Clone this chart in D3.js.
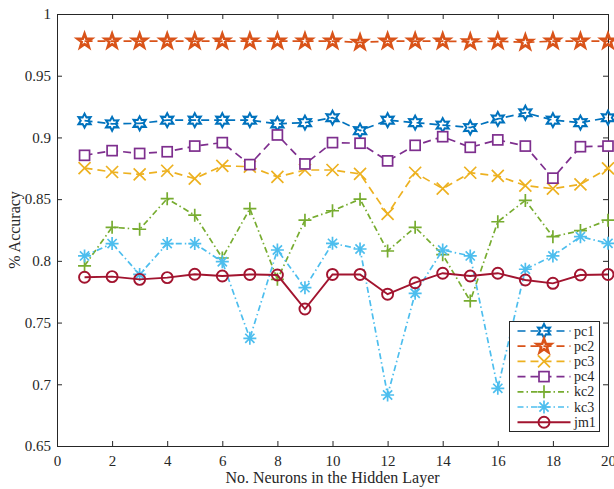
<!DOCTYPE html>
<html>
<head>
<meta charset="utf-8">
<script src="https://cdn.jsdelivr.net/npm/d3@7"></script>
<style>
body { margin: 0; background: #fff; }
text { font-family: "Liberation Serif", "Times New Roman", serif; fill: #262626; }
</style>
</head>
<body>
<script>
// - data -

var neurons = d3.range(1, 21);
var xTicks = [0, 2, 4, 6, 8, 10, 12, 14, 16, 18, 20];
var yTicks = [0.65, 0.7, 0.75, 0.8, 0.85, 0.9, 0.95, 1];

var pc1 = [0.9136, 0.911, 0.9114, 0.914, 0.914, 0.914, 0.914, 0.911, 0.912, 0.916, 0.9055, 0.914, 0.912, 0.910, 0.908, 0.915, 0.920, 0.914, 0.912, 0.916];
var pc2 = [0.978, 0.978, 0.978, 0.978, 0.978, 0.978, 0.978, 0.978, 0.978, 0.978, 0.977, 0.978, 0.978, 0.978, 0.9775, 0.978, 0.977, 0.978, 0.978, 0.978];
var pc3 = [0.8752, 0.872, 0.870, 0.873, 0.8666, 0.877, 0.8763, 0.868, 0.8736, 0.8736, 0.8704, 0.838, 0.8714, 0.8585, 0.8714, 0.8688, 0.861, 0.8585, 0.862, 0.875];
var pc4 = [0.8855, 0.8893, 0.887, 0.8884, 0.893, 0.8958, 0.878, 0.902, 0.8785, 0.8958, 0.8953, 0.881, 0.8936, 0.9006, 0.892, 0.898, 0.893, 0.867, 0.8925, 0.893];
var kc2 = [0.796, 0.8272, 0.8256, 0.8504, 0.837, 0.8023, 0.8423, 0.785, 0.833, 0.8406, 0.850, 0.808, 0.8272, 0.805, 0.7675, 0.8317, 0.849, 0.8196, 0.8245, 0.833];
var kc3 = [0.804, 0.814, 0.789, 0.814, 0.814, 0.7993, 0.7372, 0.8088, 0.7783, 0.8142, 0.8096, 0.6913, 0.7737, 0.8088, 0.804, 0.6967, 0.7932, 0.804, 0.8196, 0.8142];
var jm1 = [0.7867, 0.7872, 0.785, 0.7864, 0.7891, 0.7877, 0.789, 0.7885, 0.761, 0.789, 0.789, 0.773, 0.7823, 0.790, 0.7877, 0.790, 0.7845, 0.7818, 0.7885, 0.789];

var seriesNames = ['pc1', 'pc2', 'pc3', 'pc4', 'kc2', 'kc3', 'jm1'];
var seriesValues = [pc1, pc2, pc3, pc4, kc2, kc3, jm1];

// - global -

var width = 614;
var height = 489;

var margin = { top: 14, left: 57, bottom: 43, right: 6 };

var colors = {
	pc1: '#0072BD', pc2: '#D95319', pc3: '#EDB120', pc4: '#7E2F8E',
	kc2: '#77AC30', kc3: '#4DBEEE', jm1: '#A2142F'
};

function mapDash(key) {
	switch (key) {
		case 'kc2':
		case 'kc3':	return '6,3,1.5,3';
		case 'jm1':	return null;
	}
	return '8,5';
}

var svg = d3.select('body').append('svg')
	.attr('width', width)
	.attr('height', height);

var x = d3.scaleLinear().domain([0, 20]).range([margin.left, width - margin.right]);
var y = d3.scaleLinear().domain([0.65, 1]).range([height - margin.bottom, margin.top]);

// - markers -

function starPath(points, rOuter, rInner) {
	var p = [];
	for (var i = 0; i < points * 2; i++) {
		var r = i % 2 == 0 ? rOuter : rInner;
		var a = Math.PI * i / points - Math.PI / 2;
		p.push([r * Math.cos(a), r * Math.sin(a)]);
	}
	return 'M' + p.map(d => d[0].toFixed(2) + ',' + d[1].toFixed(2)).join('L') + 'Z';
}

function drawMarker(g, key, cx, cy) {
	var c = colors[key];
	var m = g.append('g').attr('transform', 'translate(' + cx + ',' + cy + ')')
		.attr('fill', 'none').attr('stroke', c).attr('stroke-width', 1.7);
	switch (key) {
		case 'pc1':
			m.append('path').attr('d', starPath(6, 7, 3.8)).attr('stroke-width', 2);
			break;
		case 'pc2':
			m.append('path').attr('d', starPath(5, 7.5, 3)).attr('stroke-width', 2.6)
				.attr('stroke-linejoin', 'miter');
			break;
		case 'pc3':
			m.append('path').attr('d', 'M-6,-6L6,6M-6,6L6,-6');
			break;
		case 'pc4':
			m.append('rect').attr('x', -5).attr('y', -5).attr('width', 10).attr('height', 10)
				.attr('fill', '#fff');
			break;
		case 'kc2':
			m.append('path').attr('d', 'M-6.5,0L6.5,0M0,-6.5L0,6.5');
			break;
		case 'kc3':
			m.append('path').attr('d', 'M-6.5,0L6.5,0M0,-6.5L0,6.5M-4.6,-4.6L4.6,4.6M-4.6,4.6L4.6,-4.6');
			break;
		case 'jm1':
			m.append('circle').attr('r', 5.5).attr('fill', 'none').attr('stroke-width', 1.9);
			break;
	}
}

// - axes box -

svg.append('rect')
	.attr('x', x(0)).attr('y', y(1))
	.attr('width', x(20) - x(0)).attr('height', y(0.65) - y(1))
	.attr('fill', '#fff');

var axisFont = 15;

var gx = svg.append('g').attr('transform', 'translate(0,' + y(0.65) + ')')
	.call(d3.axisBottom(x).tickValues(xTicks).tickSize(-5).tickPadding(9).tickFormat(d3.format('d')));
var gxTop = svg.append('g').attr('transform', 'translate(0,' + y(1) + ')')
	.call(d3.axisTop(x).tickValues(xTicks).tickSize(-5).tickFormat(''));
var gy = svg.append('g').attr('transform', 'translate(' + x(0) + ',0)')
	.call(d3.axisLeft(y).tickValues(yTicks).tickSize(-5).tickPadding(6).tickFormat(d => d == 1 ? '1' : String(+d.toFixed(2))));
var gyRight = svg.append('g').attr('transform', 'translate(' + x(20) + ',0)')
	.call(d3.axisRight(y).tickValues(yTicks).tickSize(-5).tickFormat(''));

[gx, gxTop, gy, gyRight].forEach(function(a) {
	a.select('.domain').attr('stroke', '#262626').attr('stroke-width', 1);
	a.selectAll('.tick line').attr('stroke', '#262626');
	a.selectAll('text').attr('font-size', axisFont).attr('font-family', '"Liberation Serif", serif').attr('fill', '#262626');
});

// - lines -

var line = d3.line()
	.x(function(d, i) { return x(neurons[i]); })
	.y(function(d) { return y(d); });

var gLines = svg.append('g');

seriesNames.forEach(function(key, s) {
	var vals = seriesValues[s];
	gLines.append('path')
		.attr('d', line(vals))
		.attr('fill', 'none')
		.attr('stroke', colors[key])
		.attr('stroke-width', key == 'jm1' ? 1.9 : 1.7)
		.attr('stroke-dasharray', mapDash(key));
	vals.forEach(function(v, i) {
		drawMarker(gLines, key, x(neurons[i]), y(v));
	});
});

// - labels -

svg.append('text')
	.attr('x', (x(0) + x(20)) / 2)
	.attr('y', 483)
	.attr('text-anchor', 'middle')
	.attr('font-size', 16)
	.text('No. Neurons in the Hidden Layer');

svg.append('text')
	.attr('transform', 'translate(20,' + ((y(0.65) + y(1)) / 2) + ') rotate(-90)')
	.attr('text-anchor', 'middle')
	.attr('font-size', 16)
	.text('% Accuracy');

// - legend -

var lg = svg.append('g').attr('transform', 'translate(509.5,321.5)');
lg.append('rect')
	.attr('width', 90).attr('height', 110)
	.attr('fill', '#fff').attr('stroke', '#262626').attr('stroke-width', 1);

seriesNames.forEach(function(key, i) {
	var ly = 9.5 + i * 15.2;
	lg.append('line')
		.attr('x1', 8).attr('x2', 61)
		.attr('y1', ly).attr('y2', ly)
		.attr('stroke', colors[key])
		.attr('stroke-width', key == 'jm1' ? 1.9 : 1.7)
		.attr('stroke-dasharray', mapDash(key));
	drawMarker(lg, key, 34.5, ly);
	lg.append('text')
		.attr('x', 64.5).attr('y', ly + 4.5)
		.attr('font-size', 14)
		.text(key);
});
</script>
</body>
</html>
